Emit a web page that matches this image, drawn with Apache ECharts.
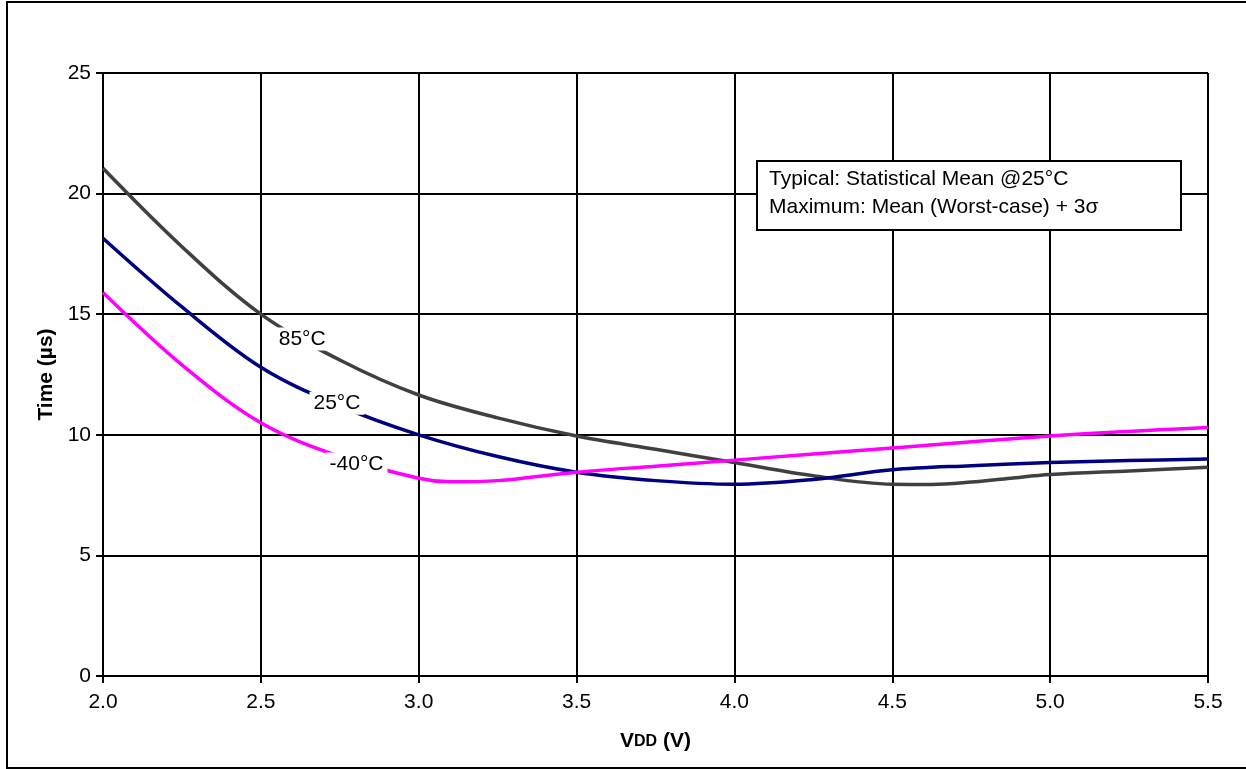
<!DOCTYPE html>
<html>
<head>
<meta charset="utf-8">
<script src="https://cdn.jsdelivr.net/npm/echarts@6/dist/echarts.min.js"></script>
<style>
html,body{margin:0;padding:0;background:#fff;}
#chart{width:1246px;height:769px;}
</style>
</head>
<body>
<div id="chart"></div>
<script>
// Data (VDD in volts, Time in microseconds)
const vdd85 = [2.0, 2.25, 2.5, 2.75, 3.0, 3.25, 3.5, 3.75, 4.0, 4.25, 4.5, 4.625, 4.75, 4.875, 5.0, 5.25, 5.5];
const time85 = [21.05, 17.8, 15.0, 13.1, 11.65, 10.7, 9.95, 9.4, 8.85, 8.3, 7.95, 7.94, 8.04, 8.2, 8.35, 8.5, 8.65];
const vdd25 = [2.0, 2.25, 2.5, 2.75, 3.0, 3.25, 3.5, 3.75, 4.0, 4.25, 4.5, 4.75, 5.0, 5.25, 5.5];
const time25 = [18.15, 15.3, 12.8, 11.2, 10.0, 9.1, 8.45, 8.1, 7.95, 8.15, 8.55, 8.72, 8.85, 8.93, 9.0];
const vddM40 = [2.0, 2.25, 2.5, 2.75, 3.0, 3.1, 3.25, 3.5, 3.75, 4.0, 4.5, 5.0, 5.5];
const timeM40 = [15.9, 12.9, 10.5, 9.1, 8.2, 8.05, 8.1, 8.45, 8.7, 8.95, 9.45, 9.95, 10.3];
const seriesNames = ['85°C', '25°C', '-40°C'];
const labelPos = [[2.631, 13.97], [2.741, 11.31], [2.803, 8.79]];
const noteLines = ['Typical: Statistical Mean @25°C', 'Maximum: Mean (Worst-case) + 3σ'];
const xTicks = ['2.0', '2.5', '3.0', '3.5', '4.0', '4.5', '5.0', '5.5'];

const FONT = '"Liberation Sans", Arial, sans-serif';
const zip = (a, b) => a.map((v, i) => [v, b[i]]);

function mkSeries(name, xs, ys, color, lp) {
  return {
    name: name,
    type: 'line',
    data: zip(xs, ys),
    smooth: 0.35,
    symbol: 'none',
    lineStyle: { color: color, width: 3.5 },
    z: 3,
    markPoint: {
      symbol: 'rect',
      symbolSize: 2,
      itemStyle: { color: 'rgba(255,255,255,0)' },
      data: [{ coord: lp }],
      label: {
        show: true,
        position: 'inside',
        formatter: name,
        color: '#000',
        fontFamily: FONT,
        fontSize: 21,
        backgroundColor: '#fff',
        padding: [1, 4]
      },
      z: 5
    }
  };
}

const chart = echarts.init(document.getElementById('chart'), null, { renderer: 'canvas' });
chart.setOption({
  animation: false,
  backgroundColor: '#fff',
  grid: { left: 103, top: 73, right: 38, bottom: 93, containLabel: false },
  xAxis: {
    type: 'value',
    min: 2.0, max: 5.5, interval: 0.5,
    name: '{a|V}{b|DD}{a| (V)}',
    nameLocation: 'middle',
    nameGap: 55,
    nameTextStyle: {
      rich: {
        a: { fontFamily: FONT, fontSize: 21, fontWeight: 'bold', color: '#000' },
        b: { fontFamily: FONT, fontSize: 16, fontWeight: 'bold', color: '#000' }
      }
    },
    axisLine: { show: true, lineStyle: { color: '#000', width: 2 } },
    axisTick: { show: true, length: 7, lineStyle: { color: '#000', width: 2 } },
    axisLabel: {
      color: '#000', fontFamily: FONT, fontSize: 21, margin: 16,
      formatter: (v) => xTicks[Math.round((v - 2.0) / 0.5)]
    },
    splitLine: { show: true, lineStyle: { color: '#000', width: 2 } }
  },
  yAxis: {
    type: 'value',
    min: 0, max: 25, interval: 5,
    name: 'Time (µs)',
    nameLocation: 'middle',
    nameGap: 45,
    nameTextStyle: { fontFamily: FONT, fontSize: 21, fontWeight: 'bold', color: '#000' },
    axisLine: { show: true, lineStyle: { color: '#000', width: 2 } },
    axisTick: { show: true, length: 7, lineStyle: { color: '#000', width: 2 } },
    axisLabel: { color: '#000', fontFamily: FONT, fontSize: 21, margin: 12 },
    splitLine: { show: true, lineStyle: { color: '#000', width: 2 } }
  },
  series: [
    mkSeries(seriesNames[0], vdd85, time85, '#404040', labelPos[0]),
    mkSeries(seriesNames[1], vdd25, time25, '#000080', labelPos[1]),
    mkSeries(seriesNames[2], vddM40, timeM40, '#FF00FF', labelPos[2])
  ],
  graphic: [
    {
      type: 'rect',
      shape: { x: 7, y: 2, width: 1260, height: 766 },
      style: { fill: 'none', stroke: '#000', lineWidth: 2 },
      silent: true, z: 0
    },
    {
      type: 'rect',
      left: 756, top: 160,
      z: 100,
      shape: { width: 424, height: 69 },
      style: { fill: '#ffffff', stroke: '#000', lineWidth: 2 }
    },
    {
      type: 'text',
      left: 769, top: 169,
      z: 101,
      style: { text: noteLines[0], fill: '#000', font: '21px ' + FONT }
    },
    {
      type: 'text',
      left: 769, top: 197,
      z: 101,
      style: { text: noteLines[1], fill: '#000', font: '21px ' + FONT }
    }
  ]
});
</script>
</body>
</html>
